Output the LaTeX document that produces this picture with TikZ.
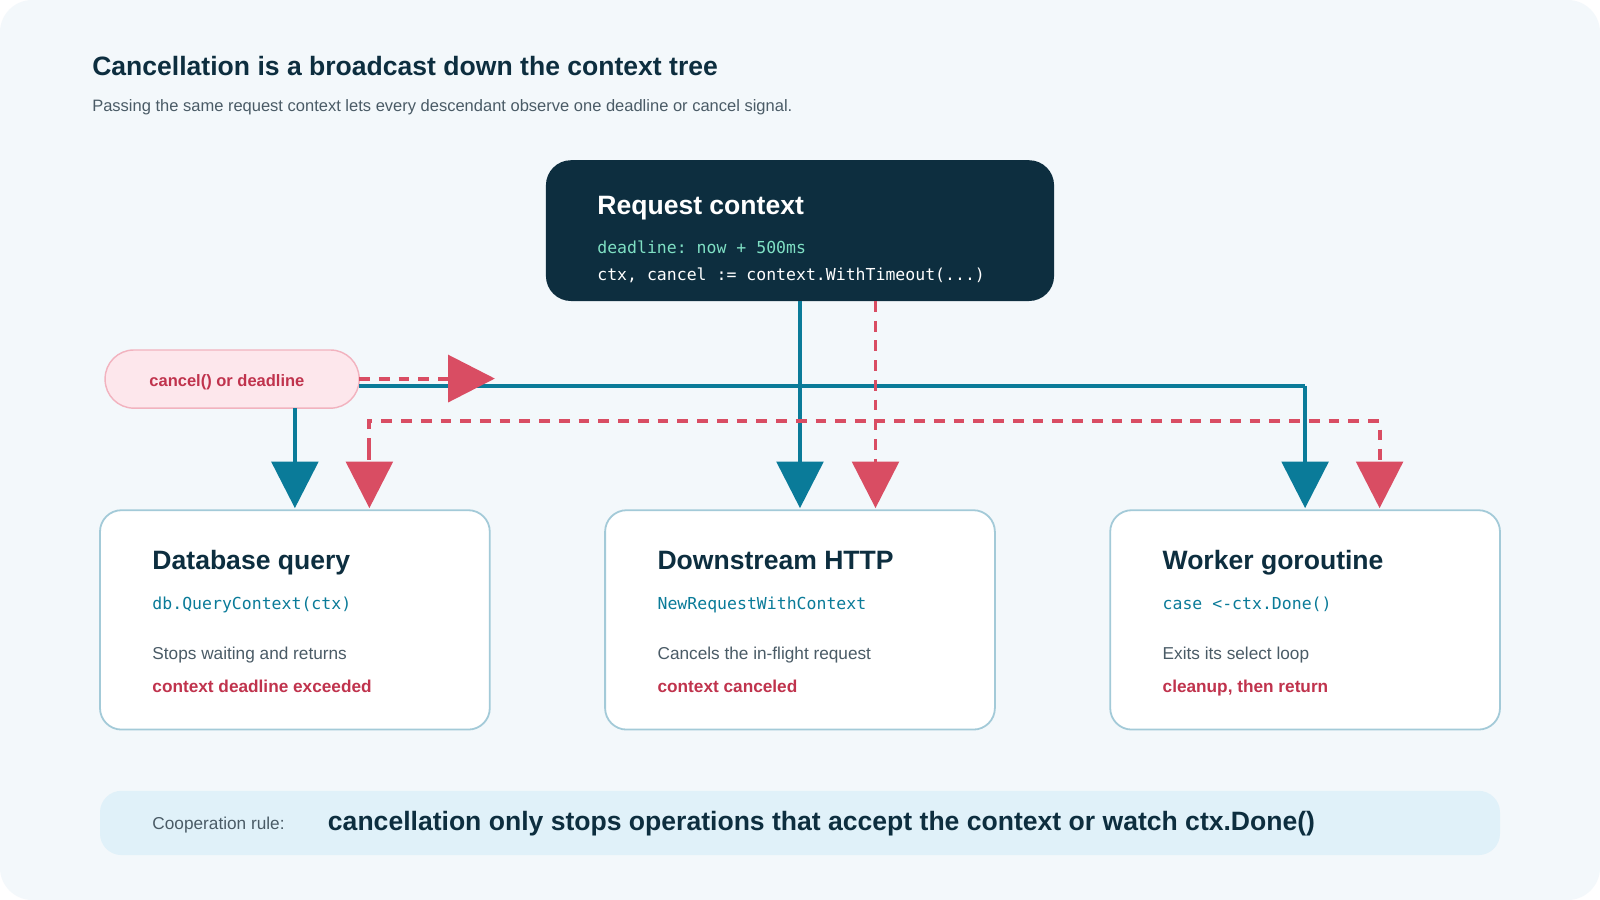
\documentclass[tikz,border=0pt]{standalone}
\usepackage{fontspec}
\setmainfont{Liberation Sans}
\setmonofont{DejaVu Sans Mono}
\usetikzlibrary{arrows.meta,positioning}
\definecolor{bgc}{HTML}{F3F8FB}
\definecolor{navy}{HTML}{0D2E3F}
\definecolor{teal}{HTML}{0A7B99}
\definecolor{redc}{HTML}{D94D63}
\definecolor{darkred}{HTML}{C0334D}
\definecolor{mint}{HTML}{7FE0C4}
\definecolor{greytext}{HTML}{4A5B66}
\definecolor{pinkfill}{HTML}{FDE7EC}
\definecolor{pinkline}{HTML}{F2B3BF}
\definecolor{boxline}{HTML}{A3CAD8}
\definecolor{footfill}{HTML}{E0F1F9}
\tikzset{
  task/.style={draw=boxline, line width=0.5pt, fill=white, rounded corners=6pt},
  tasktitle/.style={anchor=base west, text=navy, font=\fontsize{7.4}{8}\selectfont\bfseries},
  taskcode/.style={anchor=base west, text=teal, font=\fontsize{4.6}{5}\selectfont\ttfamily},
  taskbody/.style={anchor=base west, text=greytext, font=\fontsize{4.8}{5}\selectfont},
  taskerr/.style={anchor=base west, text=darkred, font=\fontsize{4.8}{5}\selectfont\bfseries},
  flow/.style={teal, line width=1.1pt, -{Triangle[width=13pt,length=13pt]}},
  signal/.style={redc, line width=1.1pt, dash pattern=on 3pt off 2.5pt, -{Triangle[width=13pt,length=13pt]}},
}
\begin{document}
\begin{tikzpicture}[x=0.01cm,y=-0.01cm]
  % fondo
  \fill[white] (0,0) rectangle (1568,882);
  \fill[bgc, rounded corners=9pt] (0,0) rectangle (1568,882);
  \useasboundingbox (0,0) rectangle (1568,882);

  % titulo
  \node[anchor=base west, text=navy, font=\fontsize{7.4}{8}\selectfont\bfseries] (title) at (78,74) {Cancellation is a broadcast down the context tree};
  \node[anchor=base west, text=greytext, font=\fontsize{4.6}{5}\selectfont] (subtitle) at (78,109) {Passing the same request context lets every descendant observe one deadline or cancel signal.};

  % contexto principal
  \fill[navy, rounded corners=7pt] (535,157) rectangle (1033,295);
  \coordinate (reqbot) at (784,295);
  \coordinate (reqsig) at (858,295);
  \node[anchor=base west, text=white, font=\fontsize{7.4}{8}\selectfont\bfseries] (reqtitle) at (573,210) {Request context};
  \node[anchor=base west, text=mint, font=\fontsize{4.6}{5}\selectfont\ttfamily] (reqline1) at (573,248) {deadline: now + 500ms};
  \node[anchor=base west, text=white, font=\fontsize{4.6}{5}\selectfont\ttfamily] (reqline2) at (573,275) {ctx, cancel := context.WithTimeout(...)};

  % disparador
  \draw[draw=pinkline, fill=pinkfill, line width=0.4pt, rounded corners=8pt] (103,343) rectangle (352,400);
  \node[anchor=base west, text=darkred, font=\fontsize{4.6}{5}\selectfont\bfseries] (trigger) at (134,379) {cancel() or deadline};

  % tareas
  \foreach \x/\name/\head/\code/\body/\err in {
      98/db/Database query/db.QueryContext(ctx)/Stops waiting and returns/context deadline exceeded,
      593/http/Downstream HTTP/NewRequestWithContext/Cancels the in-flight request/context canceled,
      1088/worker/Worker goroutine/case <-ctx.Done()/Exits its select loop/{cleanup, then return}} {
    \draw[task] (\x,500) rectangle ++(382,215);
    \node[tasktitle] (\name-title) at (\x+39,558) {\head};
    \node[taskcode] (\name-code) at (\x+39,597) {\code};
    \node[taskbody] (\name-body) at (\x+39,646) {\body};
    \node[taskerr] (\name-err) at (\x+39,679) {\err};
  }

  % conexiones azules
  \draw[teal, line width=1.1pt] (352,378) -- (1279,378);
  \draw[flow] (289,400) -- (289,498);
  \draw[flow] (reqbot) -- (784,498);
  \draw[flow] (1279,378) -- (1279,498);

  % senal roja
  \draw[signal] (352,371) -- (485,371);
  \draw[signal] (reqsig) -- (858,498);
  \draw[redc, line width=1.1pt, dash pattern=on 3pt off 2.5pt] (362,440) -- (362,413) -- (1352,413) -- (1352,440);
  \draw[signal] (362,440) -- (362,498);
  \draw[signal] (1352,440) -- (1352,498);

  % regla
  \fill[footfill, rounded corners=6pt] (98,775) rectangle (1470,838);
  \node[anchor=base west, text=greytext, font=\fontsize{4.8}{5}\selectfont] (rulelabel) at (137,813) {Cooperation rule:};
  \node[anchor=base west, text=navy, font=\fontsize{7.4}{8}\selectfont\bfseries] (ruletext) at (309,814) {cancellation only stops operations that accept the context or watch ctx.Done()};
\end{tikzpicture}
\end{document}
